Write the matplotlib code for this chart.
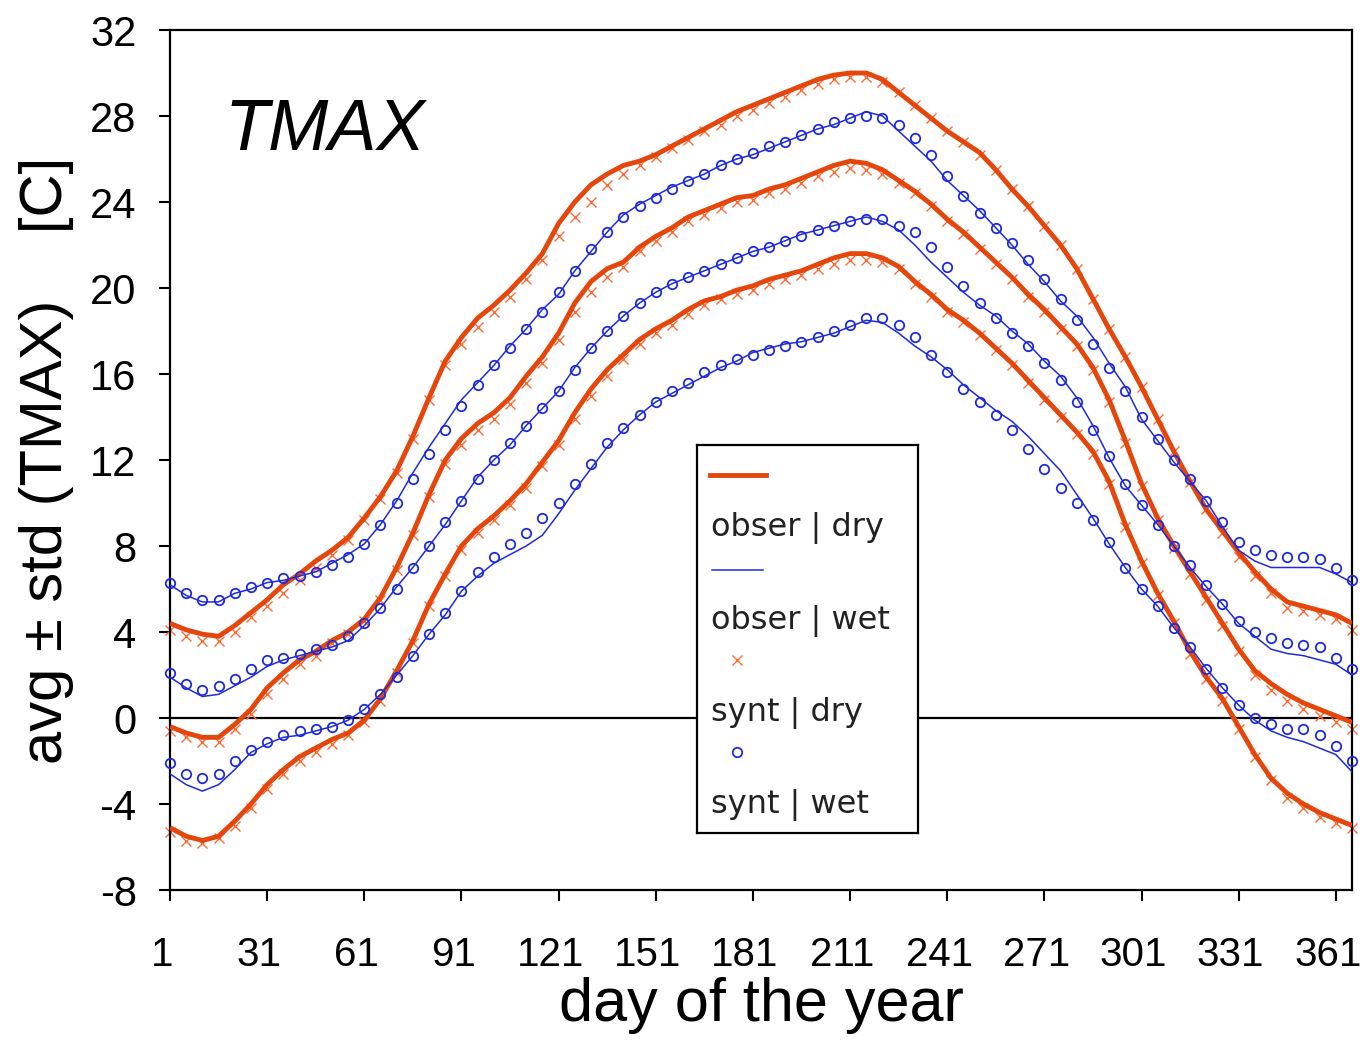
import numpy as np
import matplotlib
matplotlib.use("Agg")
import matplotlib.pyplot as plt
import matplotlib.transforms as mtransforms
from matplotlib.lines import Line2D

plt.rcParams['font.family'] = ['Liberation Sans', 'DejaVu Sans']
plt.rcParams['axes.unicode_minus'] = False

# ---------------- data (day of year, every 5 days) ----------------
days = list(range(1, 367, 5))

obs_dry_hi = [4.4, 4.1, 3.9, 3.8, 4.3, 4.9, 5.5, 6.2, 6.7, 7.3, 7.8, 8.4, 9.3, 10.3, 11.5, 13.1, 14.9, 16.6, 17.7, 18.6,
              19.2, 19.9, 20.7, 21.6, 23.0, 24.0, 24.8, 25.3, 25.7, 25.9, 26.2, 26.6, 27.0, 27.4, 27.8, 28.2, 28.5, 28.8,
              29.1, 29.4, 29.7, 29.9, 30.0, 30.0, 29.7, 29.1, 28.5, 27.9, 27.3, 26.8, 26.3, 25.5, 24.6, 23.8, 22.9, 22.0,
              20.9, 19.5, 18.1, 16.8, 15.4, 13.9, 12.4, 11.0, 9.7, 8.7, 7.7, 6.8, 6.0, 5.4, 5.2, 5.0, 4.8, 4.4]
obs_dry_avg = [-0.4, -0.7, -0.9, -0.9, -0.3, 0.4, 1.4, 2.1, 2.7, 3.1, 3.6, 4.0, 4.6, 5.6, 7.0, 8.6, 10.4, 12.0, 13.0, 13.7,
               14.2, 14.9, 15.9, 16.8, 17.9, 19.3, 20.3, 20.9, 21.2, 21.9, 22.4, 22.8, 23.3, 23.6, 23.9, 24.2, 24.3, 24.6,
               24.8, 25.1, 25.4, 25.7, 25.9, 25.8, 25.5, 25.0, 24.5, 23.9, 23.2, 22.6, 21.9, 21.2, 20.5, 19.7, 19.0, 18.2,
               17.4, 16.3, 14.8, 12.9, 10.9, 9.3, 8.0, 6.8, 5.6, 4.4, 3.2, 2.2, 1.6, 1.1, 0.7, 0.4, 0.1, -0.2]
obs_dry_lo = [-5.1, -5.5, -5.7, -5.5, -4.8, -4.0, -3.1, -2.4, -1.8, -1.4, -1.0, -0.7, -0.1, 0.9, 2.2, 3.6, 5.3, 6.7, 8.0, 8.8,
              9.4, 10.1, 10.9, 11.9, 12.9, 14.2, 15.3, 16.2, 16.9, 17.6, 18.1, 18.5, 19.0, 19.4, 19.6, 19.9, 20.1, 20.4,
              20.6, 20.8, 21.1, 21.4, 21.6, 21.6, 21.4, 21.0, 20.3, 19.7, 19.0, 18.5, 17.9, 17.2, 16.5, 15.7, 14.9, 14.1,
              13.3, 12.4, 11.0, 9.0, 7.3, 5.8, 4.5, 3.1, 1.9, 0.9, -0.4, -1.7, -2.8, -3.5, -4.0, -4.4, -4.7, -5.0]

obs_wet_hi = [6.2, 5.7, 5.4, 5.4, 5.8, 6.0, 6.3, 6.4, 6.6, 6.8, 7.2, 7.6, 8.1, 9.0, 10.1, 11.4, 12.6, 13.7, 14.8, 15.6,
              16.4, 17.3, 18.1, 19.0, 19.7, 20.8, 21.7, 22.6, 23.4, 23.9, 24.3, 24.7, 25.0, 25.3, 25.7, 26.0, 26.2, 26.5,
              26.8, 27.1, 27.4, 27.6, 27.9, 28.2, 28.0, 27.3, 26.6, 25.9, 25.0, 24.3, 23.6, 22.8, 22.0, 21.1, 20.3, 19.4,
              18.7, 17.7, 16.5, 15.4, 13.9, 12.9, 11.9, 11.0, 10.1, 8.9, 7.8, 7.3, 7.0, 7.0, 7.0, 7.0, 6.7, 6.3]
obs_wet_avg = [1.9, 1.4, 1.0, 1.1, 1.5, 1.9, 2.4, 2.7, 2.9, 3.1, 3.3, 3.6, 4.3, 5.1, 6.1, 7.0, 8.0, 9.0, 10.1, 11.2,
               12.0, 12.7, 13.6, 14.4, 15.2, 16.3, 17.2, 18.0, 18.7, 19.3, 19.8, 20.2, 20.5, 20.8, 21.1, 21.4, 21.7, 21.9,
               22.2, 22.5, 22.7, 22.9, 23.1, 23.3, 23.1, 22.7, 22.0, 21.2, 20.5, 19.8, 19.2, 18.7, 18.0, 17.4, 16.6, 15.9,
               14.9, 13.6, 12.1, 10.8, 9.9, 9.0, 8.0, 7.0, 6.1, 5.3, 4.4, 3.8, 3.2, 3.0, 2.9, 2.7, 2.5, 2.0]
obs_wet_lo = [-2.6, -3.1, -3.4, -3.1, -2.4, -1.6, -1.2, -0.9, -0.8, -0.6, -0.4, -0.1, 0.4, 1.1, 2.0, 2.9, 3.9, 4.8, 5.9, 6.6,
              7.2, 7.6, 8.0, 8.5, 9.5, 10.6, 11.6, 12.6, 13.4, 14.1, 14.7, 15.1, 15.5, 15.9, 16.3, 16.6, 17.0, 17.2,
              17.4, 17.5, 17.7, 17.9, 18.2, 18.5, 18.4, 17.9, 17.3, 16.8, 16.2, 15.5, 14.9, 14.3, 13.8, 13.1, 12.3, 11.5,
              10.4, 9.3, 8.1, 7.0, 6.0, 5.2, 4.2, 3.3, 2.3, 1.4, 0.6, -0.1, -0.6, -0.9, -1.1, -1.4, -1.7, -2.5]

syn_dry_hi = [4.1, 3.8, 3.6, 3.6, 4.0, 4.7, 5.2, 5.8, 6.4, 7.0, 7.6, 8.3, 9.2, 10.2, 11.4, 13.0, 14.8, 16.4, 17.4, 18.2,
              18.9, 19.6, 20.4, 21.3, 22.4, 23.3, 24.0, 24.8, 25.3, 25.7, 26.1, 26.5, 26.9, 27.3, 27.6, 28.0, 28.3, 28.6,
              28.9, 29.2, 29.5, 29.7, 29.8, 29.8, 29.6, 29.1, 28.5, 27.9, 27.3, 26.8, 26.2, 25.5, 24.6, 23.8, 22.9, 22.0,
              20.9, 19.5, 18.1, 16.8, 15.4, 13.9, 12.4, 11.0, 9.7, 8.6, 7.5, 6.6, 5.8, 5.1, 5.0, 4.8, 4.6, 4.1]
syn_dry_avg = [-0.6, -0.9, -1.1, -1.1, -0.5, 0.2, 1.1, 1.8, 2.5, 2.9, 3.5, 3.9, 4.5, 5.5, 6.9, 8.5, 10.3, 11.8, 12.7, 13.4,
               13.9, 14.6, 15.6, 16.5, 17.6, 18.9, 19.8, 20.5, 21.0, 21.7, 22.2, 22.6, 23.1, 23.4, 23.7, 24.0, 24.1, 24.4,
               24.6, 24.9, 25.2, 25.4, 25.6, 25.5, 25.3, 24.9, 24.4, 23.8, 23.1, 22.5, 21.8, 21.1, 20.4, 19.6, 18.9, 18.1,
               17.3, 16.2, 14.7, 12.8, 10.8, 9.2, 7.9, 6.7, 5.5, 4.3, 3.1, 2.0, 1.3, 0.8, 0.4, 0.1, -0.2, -0.5]
syn_dry_lo = [-5.3, -5.7, -5.8, -5.6, -5.0, -4.2, -3.3, -2.6, -2.0, -1.6, -1.2, -0.8, -0.2, 0.8, 2.1, 3.5, 5.2, 6.6, 7.8, 8.6,
              9.2, 9.9, 10.7, 11.7, 12.7, 13.9, 15.0, 15.9, 16.7, 17.4, 17.9, 18.3, 18.8, 19.2, 19.5, 19.7, 19.9, 20.2,
              20.4, 20.6, 20.9, 21.1, 21.3, 21.3, 21.2, 20.9, 20.2, 19.6, 18.9, 18.4, 17.8, 17.1, 16.4, 15.6, 14.8, 14.0,
              13.2, 12.3, 10.9, 8.9, 7.2, 5.7, 4.4, 3.0, 1.8, 0.8, -0.5, -1.8, -2.9, -3.7, -4.2, -4.6, -4.9, -5.1]

syn_wet_hi = [6.3, 5.8, 5.5, 5.5, 5.8, 6.1, 6.3, 6.5, 6.6, 6.8, 7.1, 7.5, 8.1, 9.0, 10.0, 11.1, 12.3, 13.4, 14.5, 15.5,
              16.4, 17.2, 18.1, 18.9, 19.8, 20.8, 21.8, 22.6, 23.3, 23.8, 24.2, 24.6, 25.0, 25.3, 25.7, 26.0, 26.3, 26.6,
              26.8, 27.1, 27.4, 27.7, 27.9, 28.0, 27.9, 27.6, 27.0, 26.2, 25.2, 24.3, 23.5, 22.8, 22.1, 21.3, 20.4, 19.5,
              18.5, 17.4, 16.3, 15.2, 14.0, 13.0, 12.0, 11.1, 10.1, 9.1, 8.2, 7.8, 7.6, 7.5, 7.5, 7.4, 7.0, 6.4]
syn_wet_avg = [2.1, 1.6, 1.3, 1.5, 1.8, 2.3, 2.7, 2.8, 3.0, 3.2, 3.4, 3.8, 4.4, 5.1, 6.0, 7.0, 8.0, 9.1, 10.1, 11.1,
               12.0, 12.8, 13.6, 14.4, 15.2, 16.2, 17.2, 18.0, 18.7, 19.3, 19.8, 20.2, 20.5, 20.8, 21.1, 21.4, 21.7, 21.9,
               22.2, 22.4, 22.7, 22.9, 23.1, 23.2, 23.2, 22.9, 22.6, 21.9, 21.0, 20.1, 19.3, 18.6, 17.9, 17.3, 16.5, 15.7,
               14.7, 13.4, 12.2, 10.9, 9.9, 9.0, 8.0, 7.1, 6.2, 5.3, 4.5, 4.0, 3.7, 3.5, 3.4, 3.3, 2.8, 2.3]
syn_wet_lo = [-2.1, -2.6, -2.8, -2.6, -2.0, -1.5, -1.1, -0.8, -0.6, -0.5, -0.4, -0.1, 0.4, 1.1, 1.9, 2.9, 3.9, 4.9, 5.9, 6.8,
              7.5, 8.1, 8.6, 9.3, 10.0, 10.9, 11.8, 12.8, 13.5, 14.1, 14.7, 15.2, 15.6, 16.1, 16.4, 16.7, 16.9, 17.1,
              17.3, 17.5, 17.7, 18.0, 18.3, 18.6, 18.6, 18.3, 17.7, 16.9, 16.1, 15.3, 14.7, 14.1, 13.4, 12.5, 11.6, 10.7,
              10.0, 9.2, 8.2, 7.0, 6.0, 5.2, 4.2, 3.3, 2.3, 1.4, 0.6, 0.0, -0.3, -0.5, -0.5, -0.8, -1.3, -2.0]

xticks = [1, 31, 61, 91, 121, 151, 181, 211, 241, 271, 301, 331, 361]
yticks = [-8, -4, 0, 4, 8, 12, 16, 20, 24, 28, 32]
legend_labels = ["obser | dry", "obser | wet", "synt | dry", "synt | wet"]

# ---------------- styles ----------------
C_OBS_DRY = '#E5460B'
C_SYN_DRY = '#FF6A35'
C_WET = '#1F2BD8'

fig = plt.figure(figsize=(13.67, 10.44), dpi=100)
ax = fig.add_axes([170/1367, 1-890/1044, (1352-170)/1367, (890-30)/1044])

ax.axhline(0, color='black', lw=1.6, zorder=1)

for s in (syn_dry_hi, syn_dry_avg, syn_dry_lo):
    ax.plot(days, s, ls='none', marker='x', ms=7, mew=1.0, color=C_SYN_DRY, zorder=2, clip_on=False)
for s in (obs_dry_hi, obs_dry_avg, obs_dry_lo):
    ax.plot(days, s, color=C_OBS_DRY, lw=3.5, zorder=3, solid_capstyle='butt')
for s in (obs_wet_hi, obs_wet_avg, obs_wet_lo):
    ax.plot(days, s, color=C_WET, lw=1.1, zorder=4)
for s in (syn_wet_hi, syn_wet_avg, syn_wet_lo):
    ax.plot(days, s, ls='none', marker='o', ms=6.8, mew=1.3, mfc='none', mec=C_WET, zorder=5, clip_on=False)

ax.set_xlim(1, 366)
ax.set_ylim(-8, 32)
ax.set_xticks(xticks)
ax.set_xticklabels([str(t) for t in xticks])
ax.set_yticks(yticks)
ax.set_yticklabels([str(t) for t in yticks])
ax.tick_params(axis='both', direction='out', length=8, width=1.5, labelsize=30, colors='black')
ax.tick_params(axis='x', labelsize=29, pad=25)
ax.tick_params(axis='y', pad=16)
shift = mtransforms.ScaledTranslation(-8/100, 0, fig.dpi_scale_trans)
for lbl in ax.get_xticklabels():
    lbl.set_transform(lbl.get_transform() + shift)
for sp in ax.spines.values():
    sp.set_linewidth(1.6)

ax.set_xlabel('day of the year', fontsize=44, labelpad=2)
ax.set_ylabel('avg \u00b1 std (TMAX)    [C]', fontsize=43, labelpad=12)
ax.text(0.046, 0.86, 'TMAX', transform=ax.transAxes, fontsize=52, style='italic',
        ha='left', va='baseline')

# ---------------- legend (sample above each label) ----------------
lax = fig.add_axes([697/1367, 1-833/1044, 221/1367, 388/1044])
lax.set_xlim(0, 1)
lax.set_ylim(0, 1)
lax.set_xticks([])
lax.set_yticks([])
lax.set_facecolor('white')
for sp in lax.spines.values():
    sp.set_linewidth(1.6)
    sp.set_color('black')
lfont = dict(fontsize=23, family=['DejaVu Sans'], color='#222222', ha='left', va='center')
lax.add_line(Line2D([0.06, 0.31], [0.923, 0.923], color=C_OBS_DRY, lw=3.5))
lax.text(0.065, 0.785, legend_labels[0], **lfont)
lax.add_line(Line2D([0.068, 0.30], [0.678, 0.678], color=C_WET, lw=1.1))
lax.text(0.065, 0.546, legend_labels[1], **lfont)
lax.plot([0.181], [0.446], ls='none', marker='x', ms=7, mew=1.0, color=C_SYN_DRY)
lax.text(0.065, 0.309, legend_labels[2], **lfont)
lax.plot([0.181], [0.209], ls='none', marker='o', ms=6.8, mew=1.3, mfc='none', mec=C_WET)
lax.text(0.065, 0.071, legend_labels[3], **lfont)

fig.savefig('out.png', dpi=100)
